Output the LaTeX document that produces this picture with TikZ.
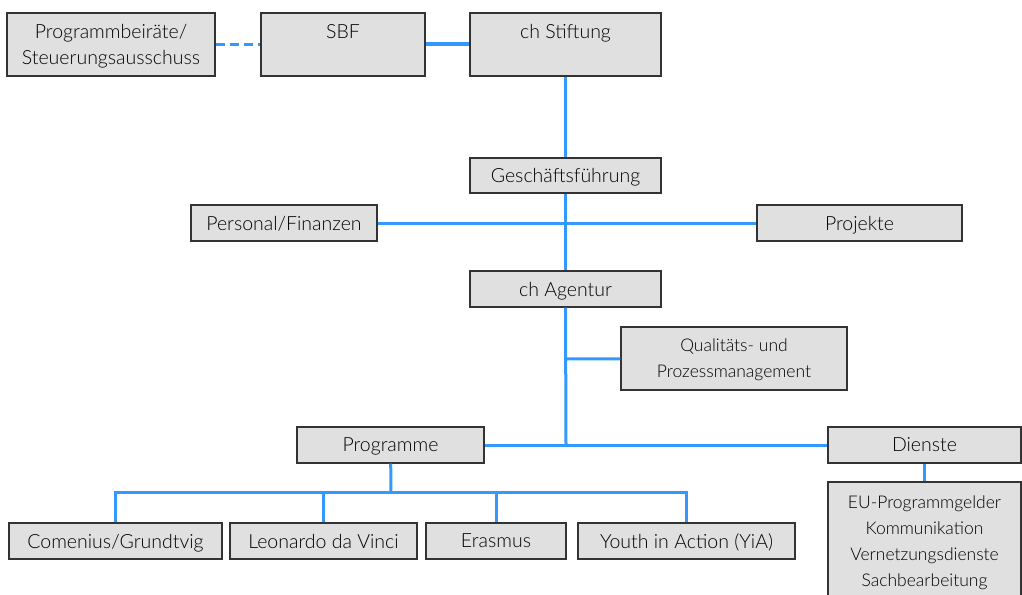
\documentclass[tikz,border=0pt]{standalone}
\usepackage{fontspec}
\setmainfont{Lato Light}
\definecolor{linkblue}{RGB}{51,153,255}
\definecolor{boxgray}{RGB}{224,224,224}
\tikzset{
    box/.style={draw=black!80, fill=boxgray, line width=1.2pt, inner sep=0pt,
        align=center, font=\fontsize{19.5}{26}\selectfont, minimum height=36pt,
        text depth=0pt},
    smallbox/.style={box, font=\fontsize{17.5}{26}\selectfont},
    link/.style={draw=linkblue, line width=3pt},
}
\begin{document}
\begin{tikzpicture}[x=1pt,y=-1pt]
        \useasboundingbox (0,0) rectangle (1022,594);

        \node[box,minimum width=208pt,minimum height=63pt] (beirat)   at (111,44.5)  {Programmbeiräte/\\Steuerungsausschuss};
        \node[box,minimum width=164pt,minimum height=63pt] (sbf)      at (343,44.5)  {SBF\\~};
        \node[box,minimum width=191pt,minimum height=63pt] (stiftung) at (565.5,44.5) {ch Stiftung\\~};
        \node[box,minimum width=191pt,minimum height=35pt] (gf)       at (565.5,175.5) {Geschäftsführung};
        \node[box,minimum width=186pt] (personal) at (284,223)   {Personal/Finanzen};
        \node[box,minimum width=205pt] (projekte) at (859.5,223) {Projekte};
        \node[box,minimum width=191pt] (agentur)  at (565.5,289) {ch Agentur};
        \node[smallbox,minimum width=226pt,minimum height=63pt] (quali) at (734,358.5) {Qualitäts- und\\Prozessmanagement};
        \node[box,minimum width=187pt] (programme) at (390.5,445) {Programme};
        \node[box,minimum width=193pt] (dienste)   at (924.5,445) {Dienste};
        \node[smallbox,minimum width=193pt,minimum height=118pt] (liste) at (924.5,541)
            {EU-Programmgelder\\Kommunikation\\Vernetzungsdienste\\Sachbearbeitung};
        \node[box,minimum width=213pt] (comenius) at (115.5,541) {Comenius/Grundtvig};
        \node[box,minimum width=187pt] (leonardo) at (323.5,541) {Leonardo da Vinci};
        \node[box,minimum width=140pt] (erasmus)  at (496,541)   {Erasmus};
        \node[box,minimum width=217pt] (youth)    at (686.5,541) {Youth in Action (YiA)};

        \coordinate (quer) at (566,359);
        \coordinate (mitte) at (566,445);
        \coordinate (bus) at (391,492);

        \path [link,dash pattern=on 9pt off 5pt] (beirat) edge node {} (sbf);
        \path [link,line width=4pt] (sbf) edge node {} (stiftung);
        \path [link] (stiftung) edge node {} (gf);
        \path [link] (gf) edge node {} (agentur);
        \path [link] (personal) edge node {} (projekte);
        \path [link] (agentur.south) edge node {} (mitte);
        \path [link] (quali) edge node {} (quer);
        \path [link] (programme) edge node {} (dienste);
        \path [link] (programme) edge node {} (bus);
        \path [link] (comenius.north) edge [to path={|- (\tikztotarget)}] node {} (bus);
        \path [link] (youth.north) edge [to path={|- (\tikztotarget)}] node {} (bus);
        \path [link] (leonardo.north) edge node {} (leonardo.north |- bus);
        \path [link] (erasmus.north) edge node {} (erasmus.north |- bus);
        \path [link] (dienste) edge node {} (liste);
    \end{tikzpicture}
\end{document}
